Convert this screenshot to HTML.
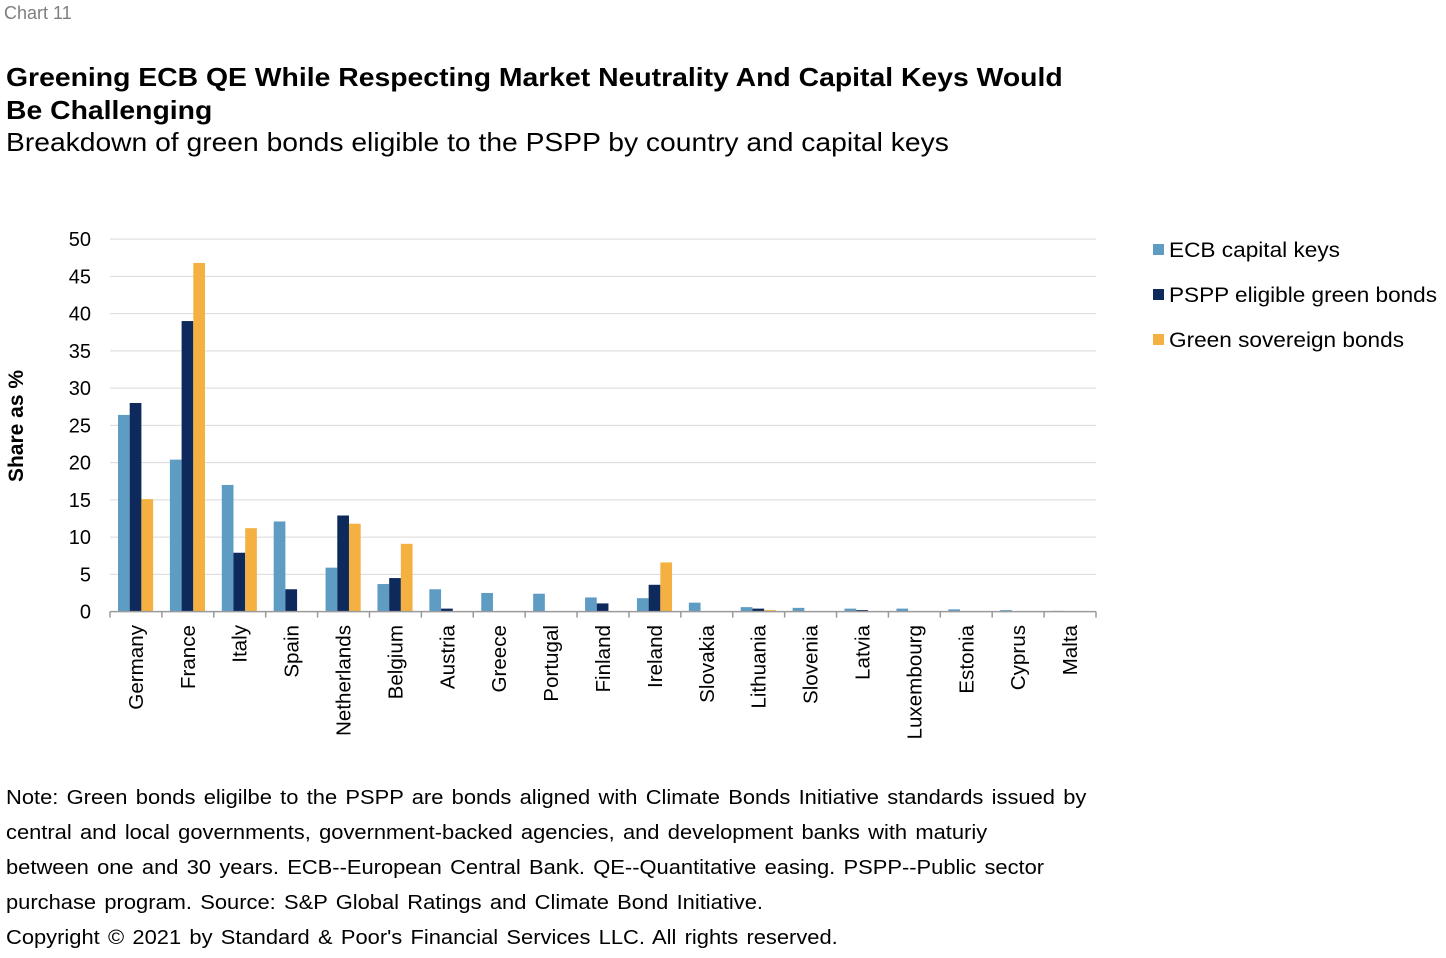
<!DOCTYPE html>
<html><head><meta charset="utf-8"><style>
body{margin:0;width:1446px;height:958px;background:#fff;font-family:"Liberation Sans",sans-serif;position:relative;overflow:hidden}
.t{position:absolute;white-space:nowrap;transform-origin:0 0}
</style></head><body>
<div class="t" style="left:4px;top:3px;font-size:18px;color:#7f7f7f">Chart 11</div>
<div class="t" style="left:6px;top:61px;font-size:26px;font-weight:bold;line-height:33px;color:#000;transform:scaleX(1.09)">Greening ECB QE While Respecting Market Neutrality And Capital Keys Would<br>Be Challenging</div>
<div class="t" style="left:6px;top:127px;font-size:26px;color:#000;transform:scaleX(1.086)">Breakdown of green bonds eligible to the PSPP by country and capital keys</div>
<svg width="1446" height="958" style="position:absolute;left:0;top:0">
<g id="g"></g>
<text transform="translate(23,426) rotate(-90)" text-anchor="middle" font-size="21" font-weight="bold" font-family="Liberation Sans">Share as %</text>
<g font-family="Liberation Sans" font-size="21">
<rect x="1153" y="244" width="11" height="11" fill="#5e9cc4"/><text x="1169" y="257" textLength="171" lengthAdjust="spacingAndGlyphs">ECB capital keys</text>
<rect x="1153" y="289" width="11" height="11" fill="#0e2a5c"/><text x="1169" y="302" textLength="268" lengthAdjust="spacingAndGlyphs">PSPP eligible green bonds</text>
<rect x="1153" y="334" width="11" height="11" fill="#f4b142"/><text x="1169" y="347" textLength="235" lengthAdjust="spacingAndGlyphs">Green sovereign bonds</text>
</g>
</svg>
<div class="t" style="left:6px;top:781px;font-size:20px;line-height:35px;color:#000;word-spacing:2px;transform:scaleX(1.095)">Note: Green bonds eligilbe to the PSPP are bonds aligned with Climate Bonds Initiative standards issued by<br>central and local governments, government-backed agencies, and development banks with maturiy<br>between one and 30 years. ECB--European Central Bank. QE--Quantitative easing. PSPP--Public sector<br>purchase program. Source: S&amp;P Global Ratings and Climate Bond Initiative.<br>Copyright © 2021 by Standard &amp; Poor's Financial Services LLC. All rights reserved.</div>
<script>
const categories=["Germany","France","Italy","Spain","Netherlands","Belgium","Austria","Greece","Portugal","Finland","Ireland","Slovakia","Lithuania","Slovenia","Latvia","Luxembourg","Estonia","Cyprus","Malta"];
const ecbKeys=[26.4,20.4,17.0,12.1,5.9,3.7,3.0,2.5,2.4,1.9,1.8,1.2,0.6,0.5,0.4,0.4,0.3,0.2,0.1];
const psppGreen=[28.0,39.0,7.9,3.0,12.9,4.5,0.4,0,0,1.1,3.6,0,0.4,0,0.2,0,0,0,0];
const greenSov=[15.1,46.8,11.2,0,11.8,9.1,0,0,0,0,6.6,0,0.2,0,0,0,0,0,0];
const yTicks=[0,5,10,15,20,25,30,35,40,45,50];
const NS="http://www.w3.org/2000/svg";
const g=document.getElementById('g');
const X0=110,X1=1096,Y0=611.6,YS=7.45;
const cw=(X1-X0)/categories.length;
const y=v=>Y0-v*YS;
function mk(t,a){const e=document.createElementNS(NS,t);for(const k in a)e.setAttribute(k,a[k]);g.appendChild(e);return e;}
yTicks.forEach(v=>{
 if(v>0){const l=mk('line',{x1:X0,x2:X1,y1:y(v),y2:y(v),stroke:'#d9d9d9','stroke-width':1});
 
 }
 const t=mk('text',{x:91,y:y(v)+7,'text-anchor':'end','font-size':20,'font-family':'Liberation Sans'});t.textContent=v;
 
 
});
const series=[[ecbKeys,'#5e9cc4','ecb'],[psppGreen,'#0e2a5c','pspp'],[greenSov,'#f4b142','green']];
const bw=11.7,off=8;
categories.forEach((c,i)=>{
 const cx=X0+i*cw;
 series.forEach(([arr,col,n],s)=>{
  const v=arr[i];if(v<=0)return;
  const r=mk('rect',{x:cx+off+s*bw,y:y(v),width:bw,height:v*YS,fill:col});
  
  
 });
 const t=mk('text',{transform:`translate(${cx+cw/2+7},625) rotate(-90) scale(1.03,1)`,'text-anchor':'end','font-size':20,'font-family':'Liberation Sans'});
 t.textContent=c;
 
 
});
for(let i=0;i<=categories.length;i++){const x=X0+i*cw;const l=mk('line',{x1:x,x2:x,y1:Y0,y2:Y0+6,stroke:'#9a9a9a','stroke-width':1.5});
 
 }
const ax=mk('line',{x1:X0,x2:X1,y1:Y0,y2:Y0,stroke:'#9a9a9a','stroke-width':1.5});


</script>
</body></html>
